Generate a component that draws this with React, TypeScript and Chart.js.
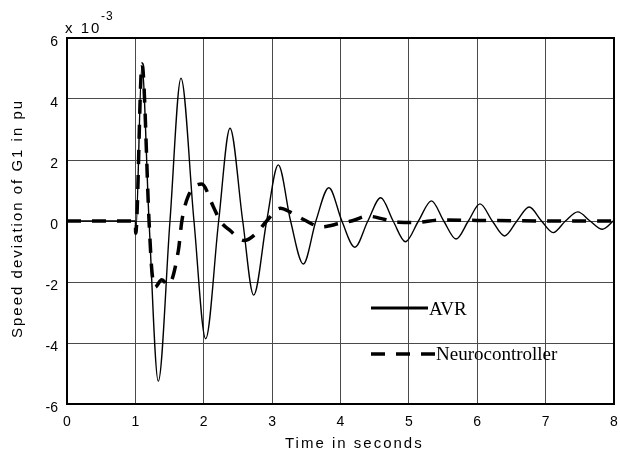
import { useEffect, useRef } from "react";
import { Chart, registerables } from "chart.js";

Chart.register(...registerables);

// ---- data (values in units of 1e-3 pu) ----
const xTickValues = [0, 1, 2, 3, 4, 5, 6, 7, 8];
const yTickValues = [-6, -4, -2, 0, 2, 4, 6];

const avrTime = [
  0, 1.0, 1.005, 1.095, 1.2, 1.335, 1.506, 1.667, 1.857, 2.028, 2.218, 2.384,
  2.57, 2.73, 2.92, 3.09, 3.27, 3.456, 3.64, 3.83, 4.02, 4.21, 4.4, 4.588,
  4.77, 4.95, 5.14, 5.33, 5.51, 5.69, 5.87, 6.04, 6.22, 6.4, 6.58, 6.76, 6.94,
  7.11, 7.29, 7.47, 7.65, 7.83, 8.0,
];
const avrDeviation = [
  0, 0, -0.4, 5.1, 0, -5.25, 0, 4.68, 0, -3.86, 0, 3.04, 0, -2.43, 0, 1.84, 0,
  -1.41, 0, 1.09, 0, -0.86, 0, 0.76, 0, -0.68, 0, 0.66, 0, -0.59, 0, 0.56, 0,
  -0.49, 0, 0.46, 0, -0.38, 0, 0.3, 0, -0.27, 0.02,
];

const neuroTime = [
  0, 1.0, 1.005, 1.097, 1.2, 1.24, 1.287, 1.385, 1.48, 1.63, 1.68, 1.77, 1.97,
  2.14, 2.24, 2.38, 2.59, 2.77, 2.92, 3.12, 3.26, 3.46, 3.72, 3.99, 4.16, 4.4,
  4.65, 4.85, 5.1, 5.45, 6.0, 6.5, 7.0, 7.5, 8.0,
];
const neuroDeviation = [
  0, 0, -0.4, 5.15, 0, -1.6, -2.17, -1.93, -2.1, -0.95, 0, 0.8, 1.21, 0.47, 0,
  -0.3, -0.64, -0.4, 0, 0.42, 0.3, 0.05, -0.19, -0.08, 0, 0.16, 0.05, -0.04,
  -0.05, 0.03, 0.02, 0.01, 0, 0, 0,
];

const seriesNames = ["AVR", "Neurocontroller"];
const xTitle = "Time in seconds";
const yTitle = "Speed deviation of G1 in pu";
const exponentBase = "x 10";
const exponentPower = "-3";

const SANS = '"Liberation Sans", Arial, sans-serif';
const SERIF = '"Liberation Serif", "Times New Roman", serif';

export default function App() {
  const canvasRef = useRef<HTMLCanvasElement>(null);

  useEffect(() => {
    if (!canvasRef.current) return;

    const framePlugin = {
      id: "frame",
      beforeDatasetsDraw(chart: any) {
        const { ctx, chartArea: a } = chart;
        ctx.save();
        ctx.strokeStyle = "#000";
        ctx.lineWidth = 2;
        ctx.strokeRect(a.left, a.top, a.right - a.left, a.bottom - a.top);
        ctx.restore();
      },
    };

    const textPlugin = {
      id: "texts",
      afterDraw(chart: any) {
        const { ctx } = chart;
        ctx.save();
        ctx.fillStyle = "#000";
        (ctx as any).letterSpacing = "2px";
        ctx.font = `15px ${SANS}`;
        ctx.textAlign = "left";
        ctx.textBaseline = "alphabetic";
        ctx.fillText(xTitle, 285, 448);
        ctx.fillText(exponentBase, 65, 33);
        ctx.save();
        ctx.translate(22, 338);
        ctx.rotate(-Math.PI / 2);
        ctx.fillText(yTitle, 0, 0);
        ctx.restore();
        (ctx as any).letterSpacing = "1px";
        ctx.font = `12px ${SANS}`;
        ctx.fillText(exponentPower, 101, 20);
        ctx.restore();
      },
    };

    const legendPlugin = {
      id: "innerLegend",
      afterDatasetsDraw(chart: any) {
        const { ctx } = chart;
        ctx.save();
        ctx.strokeStyle = "#000";
        ctx.fillStyle = "#000";
        ctx.lineCap = "butt";
        // AVR
        ctx.lineWidth = 3;
        ctx.setLineDash([]);
        ctx.beginPath();
        ctx.moveTo(371, 308);
        ctx.lineTo(428, 308);
        ctx.stroke();
        // Neurocontroller
        ctx.lineWidth = 3.5;
        ctx.setLineDash([14, 11]);
        ctx.beginPath();
        ctx.moveTo(371, 354);
        ctx.lineTo(435, 354);
        ctx.stroke();
        ctx.setLineDash([]);
        ctx.font = `19px ${SERIF}`;
        ctx.textAlign = "left";
        ctx.textBaseline = "alphabetic";
        ctx.fillText(seriesNames[0], 429, 315);
        ctx.fillText(seriesNames[1], 436, 360);
        ctx.restore();
      },
    };

    const chart = new Chart(canvasRef.current, {
      type: "line",
      data: {
        datasets: [
          {
            label: seriesNames[1],
            data: neuroTime.map((t, i) => ({ x: t, y: neuroDeviation[i] })),
            borderColor: "#000",
            borderWidth: 3.5,
            borderDash: [14, 11],
            pointRadius: 0,
            fill: false,
            cubicInterpolationMode: "monotone",
            order: 0,
          },
          {
            label: seriesNames[0],
            data: avrTime.map((t, i) => ({ x: t, y: avrDeviation[i] })),
            borderColor: "#000",
            borderWidth: 1.4,
            pointRadius: 0,
            fill: false,
            cubicInterpolationMode: "monotone",
            order: 1,
          },
        ],
      },
      options: {
        responsive: false,
        animation: false,
        devicePixelRatio: 1,
        layout: { padding: { left: 0, top: 38, right: 6, bottom: 0 } },
        plugins: {
          legend: { display: false },
          tooltip: { enabled: false },
        },
        scales: {
          x: {
            type: "linear",
            min: 0,
            max: 8,
            afterBuildTicks(scale: any) {
              scale.ticks = xTickValues.map((v) => ({ value: v }));
            },
            afterFit(scale: any) {
              scale.height = 49;
              scale.paddingLeft = 0;
              scale.paddingRight = 0;
            },
            grid: { color: "#4a4a4a", lineWidth: 1, drawTicks: false },
            border: { display: false },
            ticks: {
              color: "#000",
              font: { family: SANS, size: 14 },
              padding: 10,
              maxRotation: 0,
              autoSkip: false,
              callback: (v: any) => String(v),
            },
          },
          y: {
            type: "linear",
            min: -6,
            max: 6,
            afterBuildTicks(scale: any) {
              scale.ticks = yTickValues.map((v) => ({ value: v }));
            },
            afterFit(scale: any) {
              scale.width = 67;
              scale.paddingTop = 0;
              scale.paddingBottom = 0;
            },
            grid: { color: "#4a4a4a", lineWidth: 1, drawTicks: false },
            border: { display: false },
            ticks: {
              color: "#000",
              font: { family: SANS, size: 14 },
              padding: 9,
              labelOffset: 4,
              autoSkip: false,
              callback: (v: any) => String(v),
            },
          },
        },
      },
      plugins: [framePlugin, legendPlugin, textPlugin],
    } as any);

    return () => chart.destroy();
  }, []);

  return (
    <div
      style={{
        position: "absolute",
        left: 0,
        top: 0,
        width: 620,
        height: 453,
        background: "#fff",
      }}
    >
      <canvas
        ref={canvasRef}
        width={620}
        height={453}
        style={{ width: 620, height: 453, display: "block" }}
      />
    </div>
  );
}
